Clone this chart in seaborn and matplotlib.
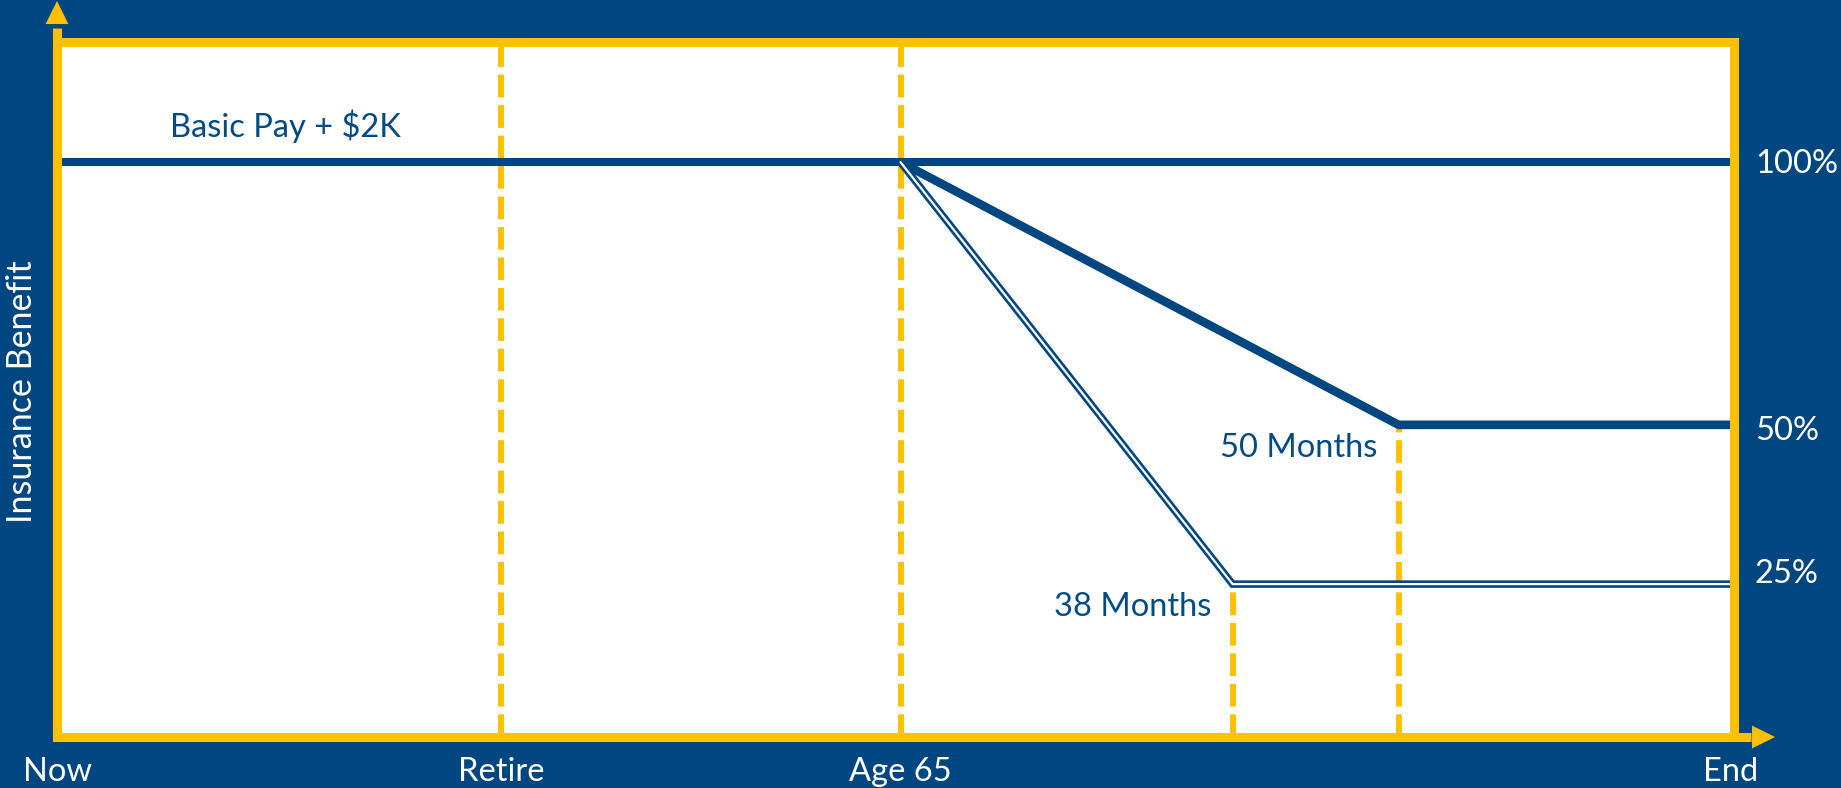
import matplotlib
matplotlib.use("Agg")
import matplotlib.pyplot as plt
import seaborn as sns

# ---- data ----
milestone_labels = ["Now", "Retire", "Age 65", "End"]
milestone_x = [0.0, 26.5, 50.3, 100.0]
month_labels = ["38 Months", "50 Months"]
month_x = [70.1, 80.0]
level_labels = ["100%", "50%", "25%"]
level_values = [100.0, 54.3, 26.6]

basic_x = [0.0, 100.0]
basic_y = [100.0, 100.0]
plan50_x = [50.3, 80.0, 100.0]
plan50_y = [100.0, 54.3, 54.3]
plan38_x = [50.3, 70.1, 100.0]
plan38_y = [100.0, 26.6, 26.6]
y_max = 120.9

NAVY = "#004680"
TEXT_NAVY = "#004A86"
YELLOW = "#FFC000"

sns.set_style("white")
plt.rcParams["font.family"] = ["Lato", "DejaVu Sans"]
FS = 23.5

W, H = 1841, 788
fig = plt.figure(figsize=(W / 100, H / 100), dpi=100, facecolor=NAVY)
ax = fig.add_axes([57 / W, 51 / H, 1677 / W, 695 / H])
ax.set_facecolor("white")
ax.set_xlim(0, 100)
ax.set_ylim(0, y_max)
ax.set_xticks([])
ax.set_yticks([])
ax.set_xlabel("")
ax.set_ylabel("")

for s in ax.spines.values():
    s.set_color(YELLOW)
    s.set_linewidth(6.5)
    s.set_zorder(5)

# dashed milestone lines
dash_kw = dict(color=YELLOW, lw=4.3, dashes=(3.8, 1.3), zorder=1, solid_capstyle="butt")
for x in milestone_x[1:3]:
    ax.plot([x, x], [0, y_max], **dash_kw)
for x, lvl in zip(month_x, level_values[1:][::-1]):
    ax.plot([x, x], [0, lvl], **dash_kw)

# benefit lines
sns.lineplot(x=basic_x, y=basic_y, ax=ax, color=NAVY, lw=5.8, sort=False,
             estimator=None, zorder=3)
sns.lineplot(x=plan50_x, y=plan50_y, ax=ax, color=NAVY, lw=6.2, sort=False,
             estimator=None, zorder=3)
sns.lineplot(x=plan38_x, y=plan38_y, ax=ax, color=NAVY, lw=5.4, sort=False,
             estimator=None, zorder=3)
sns.lineplot(x=plan38_x, y=plan38_y, ax=ax, color="white", lw=1.6, sort=False,
             estimator=None, zorder=3.1)
for l in ax.lines[-4:]:
    l.set_solid_joinstyle("miter")

# axis arrows
ax.plot([0, 0], [0, 1.02], transform=ax.transAxes, color=YELLOW, lw=6.5,
        clip_on=False, zorder=6, solid_capstyle="butt")
ax.plot([0, 1.01], [0, 0], transform=ax.transAxes, color=YELLOW, lw=6.5,
        clip_on=False, zorder=6, solid_capstyle="butt")
head = dict(arrowstyle="-|>,head_length=0.83,head_width=0.41", lw=0,
            fc=YELLOW, ec="none", mutation_scale=20, shrinkA=0, shrinkB=0)
ax.annotate("", xy=(0, 1.059), xytext=(0, 1.0), xycoords="axes fraction",
            arrowprops=head, annotation_clip=False, zorder=7)
ax.annotate("", xy=(1.0245, 0), xytext=(1.0, 0), xycoords="axes fraction",
            arrowprops=head, annotation_clip=False, zorder=7)

# bottom milestone labels
for lab, x in zip(milestone_labels, milestone_x):
    dx = -3 if lab == "End" else 0
    ax.annotate(lab, xy=(x, 0), xycoords=("data", "axes fraction"),
                xytext=(dx, -44), textcoords="offset pixels", ha="center",
                va="baseline", color="white", fontsize=FS, annotation_clip=False)

# right level labels (small per-label vertical nudges as in the reference)
label_dy = [-11, -15, 1]
for lab, y, dy in zip(level_labels, level_values, label_dy):
    ax.annotate(lab, xy=(1, y), xycoords=("axes fraction", "data"),
                xytext=(21, dy), textcoords="offset pixels", ha="left",
                va="baseline", color="white", fontsize=FS, annotation_clip=False)

# month labels
for lab, x, lvl in zip(month_labels, month_x, level_values[1:][::-1]):
    ax.annotate(lab, xy=(x, lvl), xytext=(-21, -32), textcoords="offset pixels",
                ha="right", va="baseline", color=TEXT_NAVY, fontsize=FS)

ax.annotate("Basic Pay + $2K", xy=(basic_x[0], basic_y[0]), xytext=(113, 25),
            textcoords="offset pixels", ha="left", va="baseline",
            color=TEXT_NAVY, fontsize=FS)

fig.text(22 / W, 1 - 392 / H, "Insurance Benefit", rotation=90, ha="center",
         va="center", color="white", fontsize=24.5)

fig.savefig("out.png", dpi=100, facecolor=NAVY)
